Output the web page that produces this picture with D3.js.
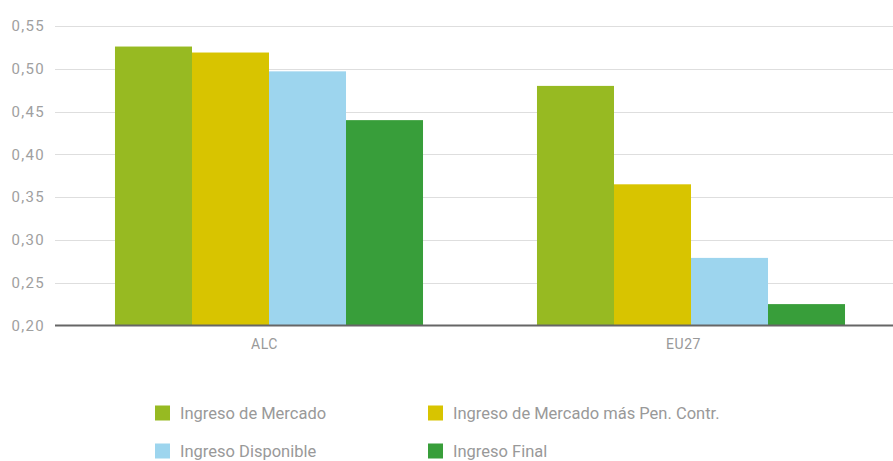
<!DOCTYPE html>
<html>
<head>
<meta charset="utf-8">
<script src="https://cdn.jsdelivr.net/npm/d3@7"></script>
<style>
  body { margin: 0; background: #fff; }
  text { font-family: Roboto, "DejaVu Sans", sans-serif; }
</style>
</head>
<body>
<div id="chart"></div>
<script>
// Data
const categories = ["ALC", "EU27"];
const seriesNames = ["Ingreso de Mercado", "Ingreso de Mercado más Pen. Contr.", "Ingreso Disponible", "Ingreso Final"];
const seriesColors = ["#97ba22", "#d8c400", "#9dd5ee", "#389e3a"];
const valuesALC = [0.526, 0.519, 0.497, 0.440];
const valuesEU27 = [0.480, 0.365, 0.279, 0.225];
const yTicks = [0.20, 0.25, 0.30, 0.35, 0.40, 0.45, 0.50, 0.55];

const W = 893, H = 461;
const margin = { top: 26, right: 0, bottom: 136, left: 58 };

const svg = d3.select("#chart").append("svg")
    .attr("width", W)
    .attr("height", H);

const data = categories.map((c, i) => ({
    cat: c,
    values: [valuesALC, valuesEU27][i]
}));

// Scales
const y = d3.scaleLinear()
    .domain([0.20, 0.55])
    .range([H - margin.bottom + 0.5, margin.top]);

const x0 = d3.scaleBand()
    .domain(categories)
    .range([margin.left, 902])
    .padding(0);

const x1 = d3.scaleBand()
    .domain(seriesNames)
    .range([0, x0.bandwidth()])
    .paddingInner(0)
    .paddingOuter(0.74);

// category labels sit on the plot width itself
const xLabel = d3.scaleBand()
    .domain(categories)
    .range([55, W])
    .padding(0);

// Gridlines
svg.append("g")
    .selectAll("line")
    .data(yTicks.slice(1))
    .join("line")
    .attr("x1", 55)
    .attr("x2", W)
    .attr("y1", d => Math.round(y(d)) + 0.5)
    .attr("y2", d => Math.round(y(d)) + 0.5)
    .attr("stroke", "#dedede")
    .attr("stroke-width", 1);

// Y axis labels
const fmt = d => d3.format(".2f")(d).replace(".", ",");
svg.append("g")
    .attr("transform", `translate(45,0)`)
    .call(d3.axisLeft(y).tickValues(yTicks).tickFormat(fmt).tickSize(0).tickPadding(0))
    .call(g => g.select(".domain").remove())
    .selectAll("text")
    .attr("fill", "#a0a0a0")
    .style("font-size", "15px")
    .style("letter-spacing", "1.3px");

// Bars
const groups = svg.append("g")
    .selectAll("g")
    .data(data)
    .join("g")
    .attr("transform", d => `translate(${x0(d.cat)},0)`);

groups.selectAll("rect")
    .data(d => d.values.map((v, i) => ({ name: seriesNames[i], value: v, color: seriesColors[i] })))
    .join("rect")
    .attr("x", d => x1(d.name))
    .attr("y", d => y(d.value))
    .attr("width", x1.bandwidth())
    .attr("height", d => y(0.20) - y(d.value))
    .attr("fill", d => d.color);

// Baseline
svg.append("line")
    .attr("x1", 55)
    .attr("x2", W)
    .attr("y1", y(0.20))
    .attr("y2", y(0.20))
    .attr("stroke", "#666")
    .attr("stroke-width", 2);

// X axis labels
svg.append("g")
    .attr("transform", `translate(0,${y(0.20)})`)
    .call(d3.axisBottom(xLabel).tickSize(0).tickPadding(14))
    .call(g => g.select(".domain").remove())
    .selectAll("text")
    .attr("fill", "#999")
    .style("font-size", "14px")
    .style("letter-spacing", "0.5px");

// Legend
const legendPos = [[155, 413], [428, 413], [155, 451], [428, 451]];
const legend = svg.append("g")
    .selectAll("g")
    .data(seriesNames)
    .join("g")
    .attr("transform", (d, i) => `translate(${legendPos[i][0]},${legendPos[i][1]})`);

legend.append("rect")
    .attr("x", 0)
    .attr("y", -7.5)
    .attr("width", 15)
    .attr("height", 15)
    .attr("fill", (d, i) => seriesColors[i]);

legend.append("text")
    .attr("x", 25)
    .attr("y", 0)
    .attr("dy", "0.35em")
    .attr("fill", "#999")
    .style("font-size", "16.5px")
    .text(d => d);
</script>
</body>
</html>
